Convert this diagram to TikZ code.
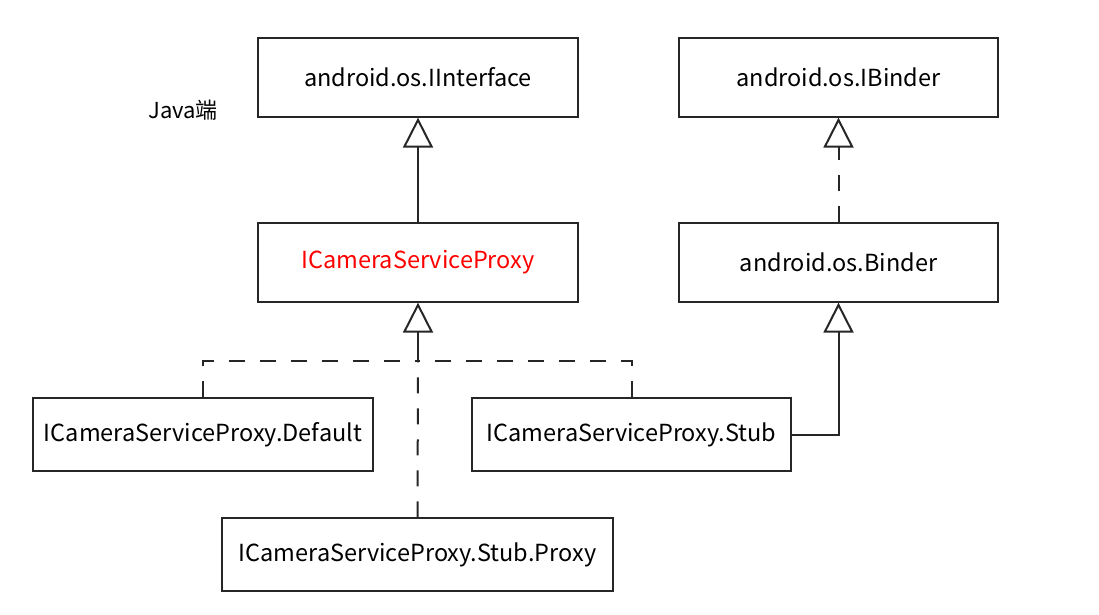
\documentclass[tikz,border=0pt]{standalone}
\usepackage{fontspec}
\setmainfont{Noto Sans CJK SC}
\usetikzlibrary{positioning,arrows.meta}

\begin{document}
\begin{tikzpicture}[x=1pt,y=-1pt,font=\fontsize{23.5}{27}\selectfont]
 \tikzset{cls/.style={draw=black!85,line width=1.3pt,minimum height=79pt,inner sep=0pt,anchor=center},
   inherit/.style={line width=2pt,draw=black!85,-{Triangle[open,length=30pt,width=30pt,line width=2pt]}},
   realize/.style={line width=2pt,draw=black!85,dash pattern=on 16pt off 15pt}}
 \useasboundingbox (0,0) rectangle (1099,615);
 \node[cls,minimum width=320pt] (IInterface) at (418,77.5) {android.os.IInterface};
 \node[cls,minimum width=319pt] (IBinder) at (838.5,77.5) {android.os.IBinder};
 \node[cls,minimum width=320pt,text=red] (Proxy) at (418,262.5) {ICameraServiceProxy};
 \node[cls,minimum width=319pt] (Binder) at (838.5,262.5) {android.os.Binder};
 \node[cls,minimum width=340pt,minimum height=73pt] (Default) at (203,434.5) {ICameraServiceProxy.Default};
 \node[cls,minimum width=319pt,minimum height=73pt] (Stub) at (631.5,434.5) {ICameraServiceProxy.Stub};
 \node[cls,minimum width=391pt,minimum height=73pt] (StubProxy) at (417.5,554.5) {ICameraServiceProxy.Stub.Proxy};
 \node[font=\fontsize{22}{25}\selectfont] (java) at (183,110) {Java端};
 \coordinate (joint) at (418,361);

 \draw[inherit] (Proxy) -- (IInterface);
 \draw[inherit,realize] (Binder) -- (IBinder);
 \draw[inherit] (joint) -- (Proxy.south);
 \draw[realize] (Default.north) |- (joint);
 \draw[realize] (Stub.north) |- (joint);
 \draw[realize] (StubProxy.north) -- (joint);
 \draw[inherit] (Stub.east) -| (Binder.south);
\end{tikzpicture}
\end{document}
